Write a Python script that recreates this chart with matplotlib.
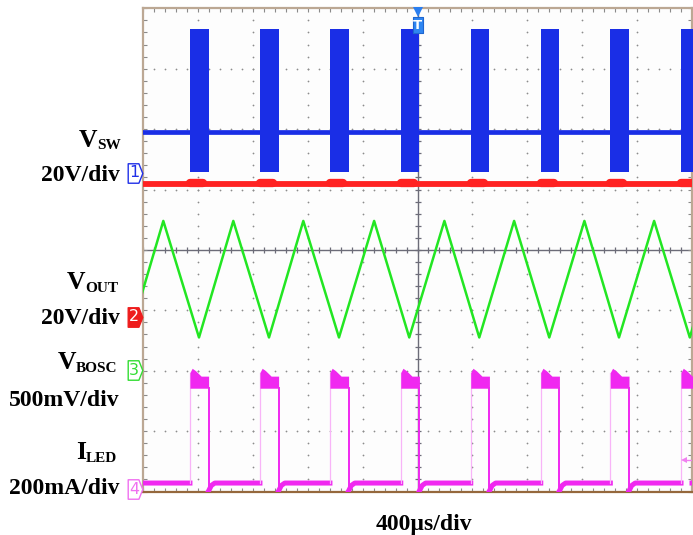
import numpy as np
import matplotlib
matplotlib.use("Agg")
import matplotlib.pyplot as plt
from matplotlib import transforms
from matplotlib.path import Path

# time in us (400 us/div, 10 div), vertical in screen divisions (-4..4)
t_div = 400
burst_start = [342, 852, 1362, 1878, 2388, 2898, 3405, 3920]   # switching bursts / LED on
burst_len = 136

vsw_base = 1.95
vsw_top = 3.65
vsw_bot = 1.29

red_level = 1.09

tri_t = [-102, 148, 408, 658, 918, 1168, 1428, 1684, 1940, 2196,
         2450, 2704, 2960, 3216, 3468, 3724, 3984, 4234]
tri_v = [-1.45, 0.48, -1.45, 0.48, -1.45, 0.48, -1.45, 0.48, -1.45, 0.48,
         -1.45, 0.48, -1.45, 0.48, -1.45, 0.48, -1.45, 0.48]

led_base = -3.86
led_under = -3.99
led_top_frac = [0, 0.12, 0.3, 0.6, 1.0]
led_top = [-2.03, -1.96, -2.0, -2.09, -2.09]
led_bot = -2.29

ch_names = ["1", "2", "3", "4"]
ch_offsets = [1.28, -1.11, -1.99, -3.96]
ch_colors = ["#2030e8", "#ee1c1c", "#33dd33", "#f070f0"]

BLUE = "#1a2ee6"
RED = "#ff2222"
GREEN = "#22e622"
MAG = "#f028f0"

W, H = 693, 535
fig = plt.figure(figsize=(W / 100, H / 100), dpi=100)
ax = fig.add_axes([143 / W, 1 - 491.5 / H, 549 / W, 483.2 / H])
ax.set_xlim(0, 10 * t_div)
ax.set_ylim(-4, 4)
ax.set_facecolor("#fdfdfd")

# graticule
for k in range(1, 10):
    if k == 5:
        continue
    yy = np.arange(-4, 4.01, 0.2)
    ax.scatter(np.full(len(yy), k * t_div), yy, s=1.6, color="#8c8c8c", lw=0, zorder=1)
for j in range(-3, 4):
    if j == 0:
        continue
    xx = np.arange(0, 10 * t_div + 1, t_div / 5)
    ax.scatter(xx, np.full(len(xx), j), s=1.6, color="#8c8c8c", lw=0, zorder=1)
ax.axhline(0, color="#6c6c78", lw=1.0, zorder=1)
ax.axvline(5 * t_div, color="#6c6c78", lw=1.0, zorder=1)
xx = np.arange(0, 10 * t_div + 1, t_div / 5)
ax.plot(xx, np.zeros(len(xx)), ls="none", marker="|", ms=5, mew=0.9, color="#6c6c78", zorder=1)
yy = np.arange(-4, 4.01, 0.2)
ax.plot(np.full(len(yy), 5 * t_div), yy, ls="none", marker="_", ms=5, mew=0.9, color="#6c6c78", zorder=1)

ax.set_xticks(np.arange(0, 10 * t_div + 1, t_div))
ax.set_xticks(np.arange(0, 10 * t_div + 1, t_div / 5), minor=True)
ax.set_yticks(np.arange(-4, 5, 1))
ax.set_yticks(np.arange(-4, 4.01, 0.2), minor=True)
ax.tick_params(which="both", direction="in", length=3, width=0.8, color="#8a8a8a",
               top=True, right=True, labelbottom=False, labelleft=False)
for side in ["left", "top", "right"]:
    ax.spines[side].set_color("#bca894")
    ax.spines[side].set_linewidth(1.6)
ax.spines["bottom"].set_color("#95683c")
ax.spines["bottom"].set_linewidth(1.6)

# V_SW (blue)
ax.plot([0, 10 * t_div], [vsw_base, vsw_base], color=BLUE, lw=3.4, zorder=4)
for s in burst_start:
    ax.fill_between([s, s + burst_len], vsw_bot, vsw_top, color=BLUE, lw=0, zorder=4)

# red trace
ax.plot([0, 10 * t_div], [red_level, red_level], color=RED, lw=4.2, zorder=3)
for s in burst_start:
    ax.plot([s, s + 0.7 * burst_len], [red_level + 0.02, red_level + 0.02],
            color=RED, lw=6, solid_capstyle="round", zorder=3)

# green triangle
ax.plot(tri_t, tri_v, color=GREEN, lw=1.8, zorder=3)

# magenta
bx, by = [0], [led_base]
for s in burst_start:
    e = s + burst_len
    bx += [s, np.nan, e, e + 20, e + 45]
    by += [led_base, np.nan, led_under, led_base - 0.04, led_base]
bx.append(10 * t_div)
by.append(led_base)
ax.plot(bx, by, color=MAG, lw=3.6, zorder=3)
for s in burst_start:
    e = s + burst_len
    ax.plot([s, s], [led_base, led_top[0]], color="#f8b4f8", lw=0.9, zorder=3)
    ax.plot([e, e], [led_bot, led_under], color=MAG, lw=1.4, zorder=3)
    tx = [s + f * burst_len for f in led_top_frac]
    ax.fill_between(tx, led_top, led_bot, color=MAG, lw=0, zorder=3)

# channel markers on the left edge
blend = transforms.blended_transform_factory(ax.transAxes, ax.transData)
mk_trans = transforms.offset_copy(blend, fig=fig, x=-8, y=0, units="dots")
pent = Path([(-0.75, -1), (0.35, -1), (0.75, 0), (0.35, 1), (-0.75, 1), (-0.75, -1)],
            [Path.MOVETO] + [Path.LINETO] * 4 + [Path.CLOSEPOLY])
for name, off, c in zip(ch_names, ch_offsets, ch_colors):
    filled = name == "2"
    ax.plot([0], [off], marker=pent, ms=14, mec=c, mfc=c if filled else "white",
            mew=1.0, transform=mk_trans, clip_on=False, zorder=6)
    ax.text(0, off, name, transform=transforms.offset_copy(blend, fig=fig, x=-9, y=0, units="dots"),
            ha="center", va="center", fontsize=11.5, family="DejaVu Sans",
            color="white" if filled else c, clip_on=False, zorder=7)

# small ch4 arrow on the right
ax.plot([0.985], [-3.48], marker="<", ms=5, color="#f080f0", mew=0,
        transform=blend, clip_on=False, zorder=6)
ax.plot([0.99, 1.0], [-3.48, -3.48], color="#f080f0", lw=1, transform=blend, zorder=6)

# trigger marker
trig = transforms.blended_transform_factory(ax.transData, ax.transAxes)
ax.plot([5 * t_div], [1], marker="v", ms=7, color="#2a7ef0", mew=0,
        transform=transforms.offset_copy(trig, fig=fig, x=0, y=-4, units="dots"),
        clip_on=False, zorder=8)
tbox = Path([(-0.68, -1), (0.68, -1), (0.68, 1), (-0.68, 1), (-0.68, -1)],
            [Path.MOVETO] + [Path.LINETO] * 3 + [Path.CLOSEPOLY])
t_trans = transforms.offset_copy(trig, fig=fig, x=0, y=-17, units="dots")
ax.plot([5 * t_div], [1], marker=tbox, ms=11.5, mfc="#2f86f2", mec="#1f66d0", mew=0.8,
        transform=t_trans, clip_on=False, zorder=8)
ax.text(5 * t_div, 1, "T", transform=t_trans, ha="center", va="center", fontsize=9.5,
        fontweight="bold", color="white", family="DejaVu Sans", zorder=9)

# labels (pixel positions, top-left origin)
pix = transforms.Affine2D().scale(1 / W, -1 / H).translate(0, 1) + fig.transFigure
serif = "Liberation Serif"
main_lbl = ["V", "V", "V", "I"]
sub_lbl = ["SW", "OUT", "BOSC", "LED"]
main_x = [97, 85, 76, 86]
main_y = [146.7, 289, 369.3, 459.3]
for m, sb, mx, my in zip(main_lbl, sub_lbl, main_x, main_y):
    fig.text(mx, my, m, transform=pix, ha="right", va="baseline", family=serif,
             fontweight="bold", fontsize=18.5)
    fig.text(mx, my + 2.5, sb, transform=pix, ha="left", va="baseline", family=serif,
             fontweight="bold", fontsize=11)
scale_lbl = ["20V/div", "20V/div", "500mV/div", "200mA/div"]
scale_y = [181, 324, 406, 494.5]
for s, sy in zip(scale_lbl, scale_y):
    fig.text(119.5, sy, s, transform=pix, ha="right", va="baseline", family=serif,
             fontweight="bold", fontsize=17)
fig.text(424, 530, "400\u00b5s/div", transform=pix, ha="center", va="baseline", family=serif,
         fontweight="bold", fontsize=17)

fig.savefig("out.png", dpi=100)
